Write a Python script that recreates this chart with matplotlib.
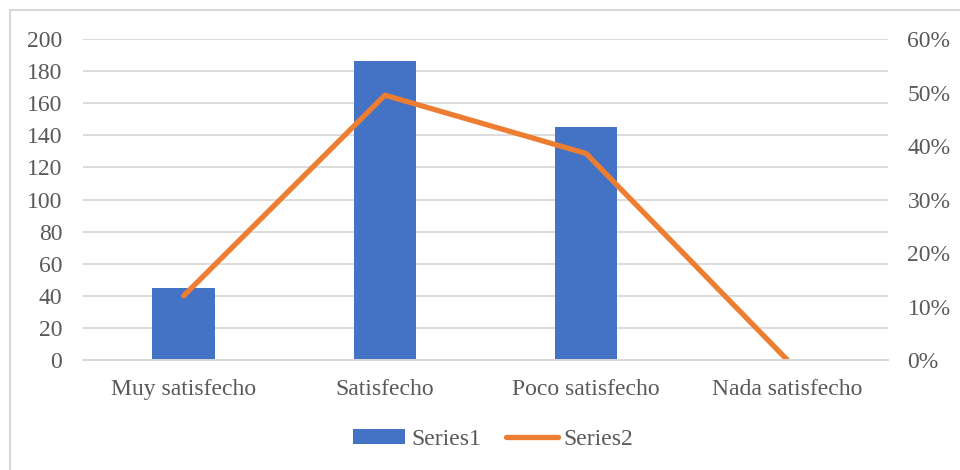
import matplotlib.pyplot as plt
from matplotlib.patches import Rectangle
from matplotlib.ticker import PercentFormatter

plt.rcParams['font.family'] = ['Liberation Serif', 'DejaVu Serif']

categories = ['Muy satisfecho', 'Satisfecho', 'Poco satisfecho', 'Nada satisfecho']
series1 = [45, 186, 145, 0]
series2 = [0.12, 0.495, 0.386, 0.0]

text_color = '#595959'
grid_color = '#D9D9D9'

fig = plt.figure(figsize=(9.6, 4.7), dpi=100)
# marco exterior del gráfico (sólo se ven el borde izquierdo y el superior)
fig.patches.append(Rectangle((0.0105, -0.05), 1.05, 1.029, transform=fig.transFigure,
                             fill=False, edgecolor=grid_color, linewidth=1.5))

ax = fig.add_axes([0.0865, 0.234, 0.8385, 0.683])
ax2 = ax.twinx()

x = range(len(categories))
ax.bar(x, series1, width=0.31, color='#4472C4', label='Series1', zorder=2)
ax2.plot(x, series2, color='#ED7D31', linewidth=3.8, solid_capstyle='round', label='Series2')

ax.set_xlim(-0.5, 3.5)
ax.set_ylim(0, 200)
ax.set_yticks(range(0, 201, 20))
ax2.set_ylim(0, 0.6)
ax2.set_yticks([i / 10 for i in range(7)])
ax2.yaxis.set_major_formatter(PercentFormatter(1.0, decimals=0))

ax.grid(axis='y', color=grid_color, linewidth=1.3, zorder=0)
ax.set_axisbelow(True)
ax.set_xticks(list(x))
ax.set_xticklabels(categories)

for a in (ax, ax2):
    for side in ('top', 'left', 'right'):
        a.spines[side].set_visible(False)
    a.spines['bottom'].set_color(grid_color)
    a.spines['bottom'].set_linewidth(1.3)
    a.tick_params(length=0, labelsize=17, colors=text_color)
ax.tick_params(axis='x', pad=14)
ax.tick_params(axis='y', pad=15)
ax2.tick_params(axis='y', pad=14)

h1, l1 = ax.get_legend_handles_labels()
h2, l2 = ax2.get_legend_handles_labels()
fig.legend(h1 + h2, l1 + l2, loc='center', bbox_to_anchor=(0.514, 0.065), ncol=2,
           frameon=False, fontsize=17, labelcolor=text_color,
           handlelength=2.2, handleheight=0.55, handletextpad=0.25, columnspacing=1.05)

plt.savefig('out.png', dpi=100)
